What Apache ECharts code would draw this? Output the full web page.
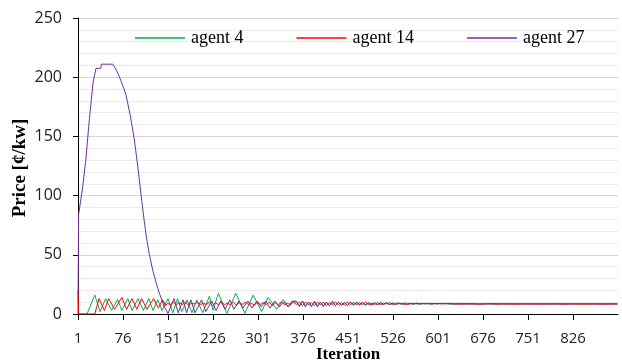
<!DOCTYPE html>
<html><head><meta charset="utf-8">
<script src="https://cdn.jsdelivr.net/npm/echarts@6/dist/echarts.min.js"></script>
<style>html,body{margin:0;padding:0;background:#fff}#c{width:622px;height:364px}</style>
</head><body><div id="c"></div>
<script>
const seriesNames = ['agent 4', 'agent 14', 'agent 27'];
const xTickLabels = ['1','76','151','226','301','376','451','526','601','676','751','826'];
const yTicks = [0, 50, 100, 150, 200, 250];

// [iteration, price] vertices
const agent4Head = [[1,0],[16,0],[29,16],[38,2],[47,13],[57,3],[67,12.5],[74,3],[84,13],[91,3],[101,13],[110,3],[119,13],[126,3],[134,12],[141,3],[151,13],[159,1],[167,13],[174,2],[183,12],[191,1],[199,12],[209,1],[220,15],[226,3],[235,17.5],[249,0.5],[264,17.5],[279,0.5],[293,16],[307,2],[318,14],[332,4],[343,12],[352,6],[360,11]];
const agent14Head = [[1,20],[2,0],[29,0],[36,13],[45,3],[52,13],[62,4],[74,14],[82,4],[91,13],[99,4],[107,13],[116,4],[127,13],[135,5],[142,12],[147,7]];
const agent27Head = [[1,0],[2,84],[9,108],[14,130],[20,165],[26,195],[28,200],[31,207.5],[39,207.5],[40,211],[59,211],[65,206],[71,199],[77,191],[81,185],[88,168],[95,147],[101,123],[106,101],[111,80],[115,65],[120,50],[126,36],[132,25],[137,17],[145,6],[151,0.5],[161,13],[168,1],[176,12],[182,1],[189,12],[196,1],[207,12],[214,2],[224,11],[231,3],[239,11],[246,4],[254,12],[261,4],[269,11],[276,5],[284,11],[291,5],[299,11],[306,6],[314,11],[321,5],[329,11],[336,6],[344,10],[351,6],[358,11]];

// agent 14 band, iterations 150..360 every 5
const agent14Band = [9,8,10,8,9.5,8,10,7.5,9,8.5,10,8,9,8,10,7,9.5,8,10,8,9,8,10,7.5,9.5,8,10,8,9,7.5,10,8,9.5,8,10,7,9.5,8,10,8,9,8,10];
// iterations 365..620 every 5
const agent4Mid = [11,6,11,7,10,6,11,7,10,6,10,7,11,7,10,7,10,7,10,7,10,8,10,7,10,8,9.5,7.5,10,8,9.5,8,9.5,8,9.5,8,9.5,8,9,8,9.5,8,9,8.5,9,8,9,8.5,9,8.5,9,8.5];
const agent14Mid = [8,10,7,10,8,9.5,7,10,8,10,7,9.5,8,10,8,9.5,7.5,10,8,9.5,8,9.5,8,10,8,9,8,9.5,8,9,8.5,9.5,8,9,8.5,9,8,9,8.5,9,8.5,9,8.5,9,8.5,9,8.5,9,8.5,9,8.5,9];
const agent27Mid = [10,7,11,6,10,7,10,6,10,7,10,7,9.5,7,10,7.5,9.5,7,10,8,9.5,7.5,9.5,8,9,7.5,9.5,8,9,8,9.5,8,9,8,9,8.5,9,8,9,8.5,9,8.5,9,8.5,9,8.5,9,8.5,9,8.5,9,8.5];
// iterations 630..900 every 10
const agent4Tail = [8.5,8.7,8.4,8.6,8.5,8.7,8.4,8.6,8.5,8.5,8.6,8.4,8.5,8.6,8.5,8.5,8.4,8.6,8.5,8.5,8.6,8.5,8.4,8.5,8.5,8.6,8.5,8.5];
const agent14Tail = [8.6,8.4,8.7,8.5,8.4,8.6,8.7,8.4,8.5,8.6,8.4,8.5,8.6,8.5,8.4,8.6,8.5,8.5,8.4,8.6,8.5,8.4,8.5,8.6,8.5,8.4,8.5,8.5];
const agent27Tail = [8.4,8.7,8.5,8.6,8.4,8.5,8.6,8.5,8.7,8.4,8.5,8.6,8.5,8.4,8.6,8.5,8.5,8.6,8.4,8.5,8.5,8.6,8.5,8.5,8.4,8.5,8.6,8.5];

const colors = {'agent 4':'#00b050','agent 14':'#ff0000','agent 27':'#7030a0'};

function onGrid(start, step, vals){ return vals.map((v,i)=>[start+step*i, v]); }
function toAxis(pairs){ return pairs.map(p=>[p[0]-1, p[1]]); }

const data4 = toAxis(agent4Head.concat(onGrid(365,5,agent4Mid), onGrid(630,10,agent4Tail)));
const data14 = toAxis(agent14Head.concat(onGrid(150,5,agent14Band), onGrid(365,5,agent14Mid), onGrid(630,10,agent14Tail)));
const data27 = toAxis(agent27Head.concat(onGrid(365,5,agent27Mid), onGrid(630,10,agent27Tail)));

function mk(name, data){
  return {name, type:'line', data, showSymbol:false, symbol:'none', silent:true,
    lineStyle:{width:1, color:colors[name]}, itemStyle:{color:colors[name]}};
}

const chart = echarts.init(document.getElementById('c'), null, {renderer:'canvas'});
chart.setOption({
  animation:false,
  backgroundColor:'#ffffff',
  grid:{left:78, top:18, right:4, bottom:50, containLabel:false},
  legend:{
    data:seriesNames, left:130, top:24, itemWidth:50, itemHeight:1.5, itemGap:53, icon:'rect',
    textStyle:{fontFamily:'Liberation Serif', fontSize:18, color:'#000', padding:[0,0,0,1]}
  },
  xAxis:{
    type:'value', min:0, max:900, interval:75,
    axisLine:{show:true, onZero:false, lineStyle:{color:'#000', width:1}},
    axisTick:{show:true, length:6, lineStyle:{color:'#000'}},
    splitLine:{show:false},
    axisLabel:{margin:17, fontFamily:'Open Sans', fontSize:15, color:'#222', showMaxLabel:false,
      formatter:function(v){ const s=String(v+1); return xTickLabels.indexOf(s)>=0 ? s : ''; }}
  },
  yAxis:{
    type:'value', min:yTicks[0], max:yTicks[yTicks.length-1], interval:50,
    axisLine:{show:true, lineStyle:{color:'#000', width:1}},
    axisTick:{show:true, length:5, lineStyle:{color:'#000'}},
    minorTick:{show:false, splitNumber:5},
    splitLine:{show:true, lineStyle:{color:'#d6d6d6', width:1}},
    minorSplitLine:{show:true, lineStyle:{color:'#ececec', width:1}},
    axisLabel:{margin:16, fontFamily:'Open Sans', fontSize:16, color:'#222'}
  },
  graphic:[
    {type:'text', x:20, y:168, rotation:Math.PI/2,
     style:{text:'Price [¢/kw]', font:'bold 19px "Liberation Serif"', fill:'#000', textAlign:'center', textVerticalAlign:'middle'}},
    {type:'text', x:348, y:355,
     style:{text:'Iteration', font:'bold 17px "Liberation Serif"', fill:'#000', textAlign:'center', textVerticalAlign:'middle'}}
  ],
  series:[mk('agent 4', data4), mk('agent 27', data27), mk('agent 14', data14)]
});
</script></body></html>
